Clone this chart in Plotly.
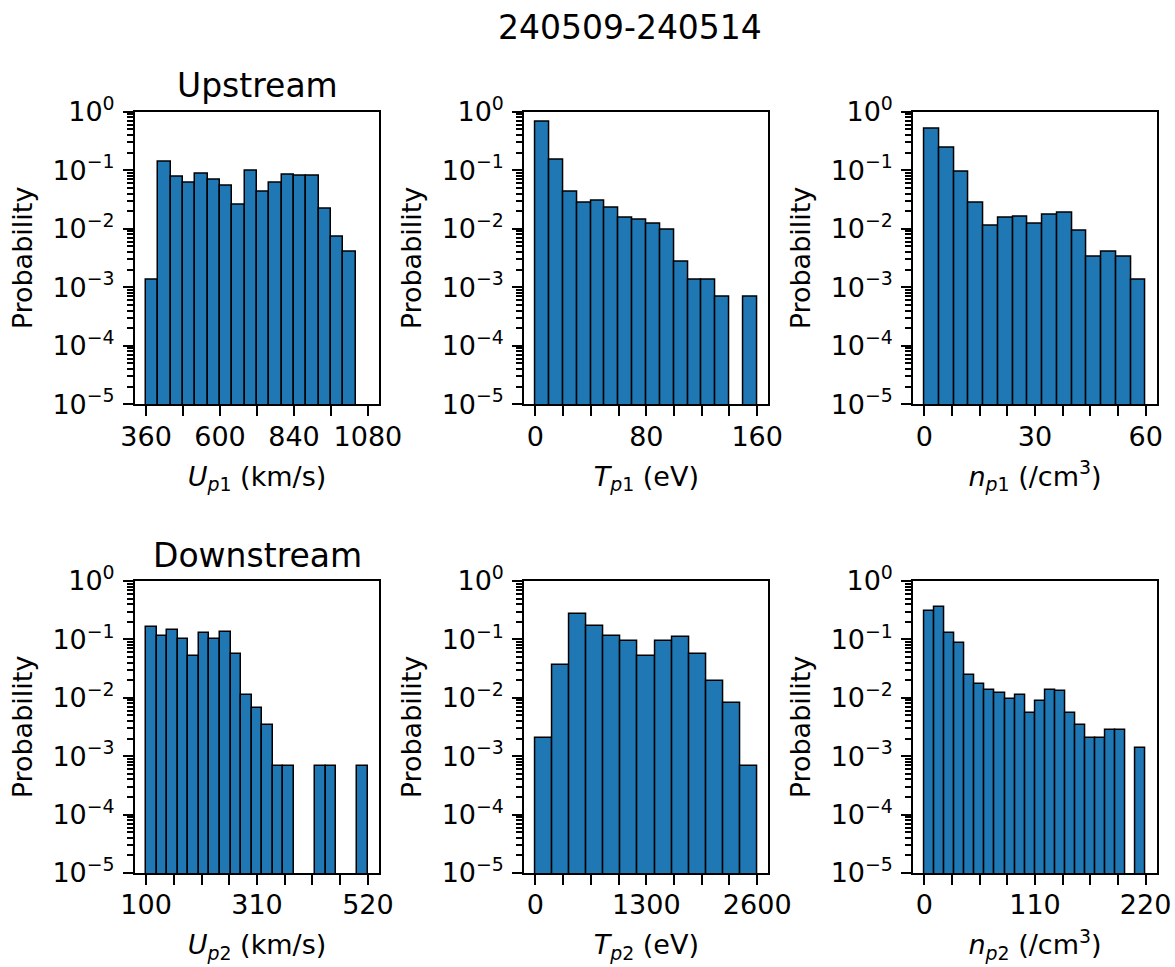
import numpy as np
import plotly.graph_objects as go

# Histogram probabilities per bin (None = empty bin)
# Upstream
u1_lo, u1_hi = 360, 1080
p_u1 = [0.00137, 0.142, 0.0776, 0.0621, 0.0884, 0.068, 0.0544, 0.0255, 0.0995,
        0.0424, 0.0604, 0.085, 0.0796, 0.0796, 0.0223, 0.00731, 0.00406, None]
t1_lo, t1_hi = 0, 160
p_t1 = [0.675, 0.149, 0.0424, 0.0279, 0.0298, 0.0232, 0.0155, 0.0141, 0.0120,
        0.0095, 0.00274, 0.00135, 0.00135, 0.00068, None, 0.00068]
n1_lo, n1_hi = 0, 60
p_n1 = [0.519, 0.239, 0.0931, 0.0279, 0.0114, 0.0153, 0.0161, 0.0121, 0.0172,
        0.0191, 0.0094, 0.00334, 0.00401, 0.00334, 0.00133]
# Downstream
u2_lo, u2_hi = 100, 520
p_u2 = [0.165, 0.116, 0.145, 0.100, 0.0519, 0.127, 0.103, 0.132, 0.0562, 0.0112,
        0.00678, 0.00347, 0.00068, 0.00068, None, None, 0.00068, 0.00068, None,
        None, 0.00068]
t2_lo, t2_hi = 0, 2600
p_t2 = [0.00208, 0.036, 0.269, 0.1675, 0.1144, 0.0939, 0.052, 0.0939, 0.1114,
        0.0562, 0.0197, 0.00825, 0.00069]
n2_lo, n2_hi = 0, 220
p_n2 = [0.302, 0.354, 0.1288, 0.0867, 0.0242, 0.0170, 0.0136, 0.01225, 0.00953,
        0.0110, 0.0055, 0.0088, 0.0136, 0.0129, 0.0055, 0.00338, 0.00202, 0.00202,
        0.00277, 0.00277, None, 0.00136]

x_titles = [
    "<i>U</i><sub><i>p</i>1</sub> (km/s)",
    "<i>T</i><sub><i>p</i>1</sub> (eV)",
    "<i>n</i><sub><i>p</i>1</sub> (/cm<sup>3</sup>)",
    "<i>U</i><sub><i>p</i>2</sub> (km/s)",
    "<i>T</i><sub><i>p</i>2</sub> (eV)",
    "<i>n</i><sub><i>p</i>2</sub> (/cm<sup>3</sup>)",
]
# x tick positions (every tick) and which of them carry labels
x_ticks = [
    (np.linspace(360, 1080, 7), [360, 600, 840, 1080]),
    (np.linspace(0, 160, 9), [0, 80, 160]),
    (np.linspace(0, 60, 9), [0, 30, 60]),
    (np.linspace(100, 520, 9), [100, 310, 520]),
    (np.linspace(0, 2600, 9), [0, 1300, 2600]),
    (np.linspace(0, 220, 9), [0, 110, 220]),
]
panels = [
    (u1_lo, u1_hi, p_u1), (t1_lo, t1_hi, p_t1), (n1_lo, n1_hi, p_n1),
    (u2_lo, u2_hi, p_u2), (t2_lo, t2_hi, p_t2), (n2_lo, n2_hi, p_n2),
]

W, H = 1175, 967
FONT = "DejaVu Sans"
TICK_SIZE = 27
col_px = [(135, 379), (524.3, 768.3), (913.3, 1156.7)]
row_px = [(111.7, 404.3), (581.0, 873.0)]

fig = go.Figure()
layout = dict(
    width=W, height=H,
    margin=dict(l=0, r=0, t=0, b=0),
    paper_bgcolor="white", plot_bgcolor="white",
    showlegend=False, bargap=0,
    font=dict(family=FONT, size=TICK_SIZE, color="black"),
)

y_tickvals = [10.0 ** k for k in range(-5, 1)]
y_ticktext = ["10<sup>%s</sup>" % (str(k).replace("-", "\u2212")) for k in range(-5, 1)]
y_minor = [m * 10.0 ** k for k in range(-5, 0) for m in range(2, 10)]

for i, (lo, hi, probs) in enumerate(panels):
    n = len(probs)
    edges = np.linspace(lo, hi, n + 1)
    centers = (edges[:-1] + edges[1:]) / 2
    width = edges[1] - edges[0]
    ax = "" if i == 0 else str(i + 1)
    fig.add_trace(go.Bar(
        x=centers, y=probs, width=width,
        marker=dict(color="#1f77b4", line=dict(color="black", width=1.5)),
        xaxis="x" + ax, yaxis="y" + ax,
    ))
    r, c = divmod(i, 3)
    x0, x1 = col_px[c]
    y0, y1 = row_px[r]
    span = hi - lo
    tv, labelled = x_ticks[i]
    tt = [("%g" % v) if any(abs(v - l) < 1e-9 for l in labelled) else "" for v in tv]
    axis_common = dict(
        showline=True, mirror=True, linecolor="black", linewidth=2,
        ticks="outside", ticklen=10, tickwidth=2, tickcolor="black",
        showgrid=False, zeroline=False, automargin=False,
        tickfont=dict(family=FONT, size=TICK_SIZE, color="black"),
    )
    layout["xaxis" + ax] = dict(
        axis_common,
        domain=[x0 / W, x1 / W],
        anchor="y" + ax,
        range=[lo - 0.05 * span, hi + 0.05 * span],
        tickmode="array", tickvals=list(tv), ticktext=tt,
        ticklabelstandoff=-3,
        title=dict(text=x_titles[i], font=dict(family=FONT, size=TICK_SIZE), standoff=16),
    )
    layout["yaxis" + ax] = dict(
        axis_common,
        domain=[1 - y1 / H, 1 - y0 / H],
        anchor="x" + ax,
        type="log", range=[-5, 0],
        tickmode="array", tickvals=y_tickvals, ticktext=y_ticktext,
        ticklabelstandoff=3,
        minor=dict(ticks="outside", ticklen=6, tickwidth=1.5, tickcolor="black",
                   tickvals=y_minor, showgrid=False),
        title=dict(text="Probability", font=dict(family=FONT, size=TICK_SIZE), standoff=12),
    )

fig.update_layout(**layout)

fig.add_annotation(text="240509-240514", x=630 / W, y=1 - 27 / H, xref="paper", yref="paper",
                   showarrow=False, xanchor="center", yanchor="middle",
                   font=dict(family=FONT, size=33, color="black"))
fig.add_annotation(text="Upstream", x=257 / W, y=1 - 85 / H, xref="paper", yref="paper",
                   showarrow=False, xanchor="center", yanchor="middle",
                   font=dict(family=FONT, size=33, color="black"))
fig.add_annotation(text="Downstream", x=257 / W, y=1 - 555 / H, xref="paper", yref="paper",
                   showarrow=False, xanchor="center", yanchor="middle",
                   font=dict(family=FONT, size=33, color="black"))

fig.write_html("out.html")
